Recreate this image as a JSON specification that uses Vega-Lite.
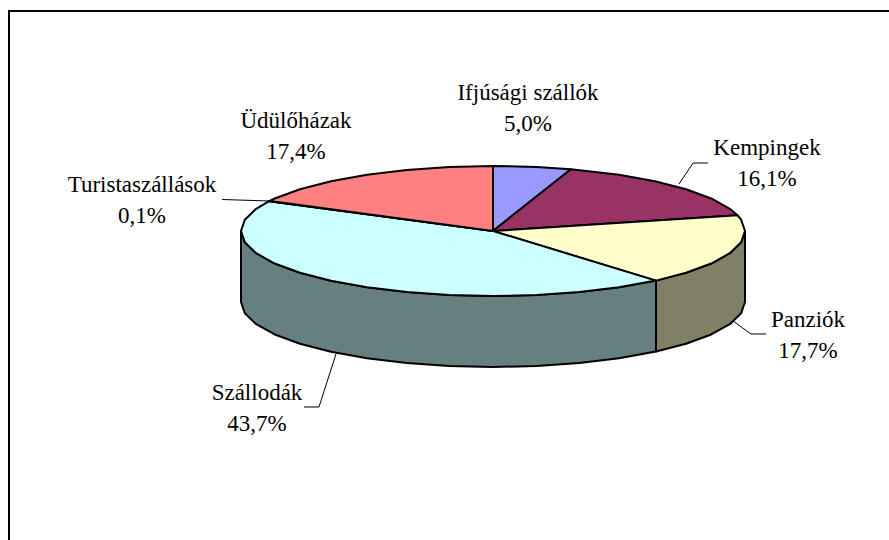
{"$schema":"https://vega.github.io/schema/vega-lite/v6.json","width":889,"height":540,"padding":0,"autosize":{"type":"none"},"background":"white","view":{"stroke":null},
"datasets":{
"frame":[{"x":-192.06,"y":-130,"n":0},{"x":-192.06,"y":87.3,"n":1},{"x":170,"y":87.3,"n":2}],
"sides":[
{"s":"Panziók","n":0,"x":100,"y":0},{"s":"Panziók","n":1,"x":98.48,"y":-4.48},{"s":"Panziók","n":2,"x":93.97,"y":-8.82},{"s":"Panziók","n":3,"x":86.6,"y":-12.9},{"s":"Panziók","n":4,"x":76.6,"y":-16.58},{"s":"Panziók","n":5,"x":64.68,"y":-19.68},{"s":"Panziók","n":6,"x":64.68,"y":-47.85},{"s":"Panziók","n":7,"x":76.6,"y":-44.75},{"s":"Panziók","n":8,"x":86.6,"y":-41.07},{"s":"Panziók","n":9,"x":93.97,"y":-36.99},{"s":"Panziók","n":10,"x":98.48,"y":-32.65},{"s":"Panziók","n":11,"x":100,"y":-28.17},{"s":"Panziók","n":12,"x":100,"y":0},
{"s":"Szállodák","n":0,"x":64.68,"y":-19.68},{"s":"Szállodák","n":1,"x":50,"y":-22.34},{"s":"Szállodák","n":2,"x":34.2,"y":-24.24},{"s":"Szállodák","n":3,"x":17.36,"y":-25.41},{"s":"Szállodák","n":4,"x":0,"y":-25.8},{"s":"Szállodák","n":5,"x":-17.36,"y":-25.41},{"s":"Szállodák","n":6,"x":-34.2,"y":-24.24},{"s":"Szállodák","n":7,"x":-50,"y":-22.34},{"s":"Szállodák","n":8,"x":-64.28,"y":-19.76},{"s":"Szállodák","n":9,"x":-76.6,"y":-16.58},{"s":"Szállodák","n":10,"x":-86.6,"y":-12.9},{"s":"Szállodák","n":11,"x":-93.97,"y":-8.82},{"s":"Szállodák","n":12,"x":-98.48,"y":-4.48},{"s":"Szállodák","n":13,"x":-100,"y":0},{"s":"Szállodák","n":14,"x":-100,"y":-28.17},{"s":"Szállodák","n":15,"x":-98.48,"y":-32.65},{"s":"Szállodák","n":16,"x":-93.97,"y":-36.99},{"s":"Szállodák","n":17,"x":-86.6,"y":-41.07},{"s":"Szállodák","n":18,"x":-76.6,"y":-44.75},{"s":"Szállodák","n":19,"x":-64.28,"y":-47.93},{"s":"Szállodák","n":20,"x":-50,"y":-50.51},{"s":"Szállodák","n":21,"x":-34.2,"y":-52.41},{"s":"Szállodák","n":22,"x":-17.36,"y":-53.58},{"s":"Szállodák","n":23,"x":0,"y":-53.97},{"s":"Szállodák","n":24,"x":17.36,"y":-53.58},{"s":"Szállodák","n":25,"x":34.2,"y":-52.41},{"s":"Szállodák","n":26,"x":50,"y":-50.51},{"s":"Szállodák","n":27,"x":64.68,"y":-47.85},{"s":"Szállodák","n":28,"x":64.68,"y":-19.68}
],
"tops":[
{"s":"Ifjúsági szállók","n":0,"x":0,"y":0},{"s":"Ifjúsági szállók","n":1,"x":0,"y":25.8},{"s":"Ifjúsági szállók","n":2,"x":17.36,"y":25.41},{"s":"Ifjúsági szállók","n":3,"x":30.9,"y":24.54},{"s":"Ifjúsági szállók","n":4,"x":0,"y":0},
{"s":"Kempingek","n":0,"x":0,"y":0},{"s":"Kempingek","n":1,"x":30.9,"y":24.54},{"s":"Kempingek","n":2,"x":50,"y":22.34},{"s":"Kempingek","n":3,"x":64.28,"y":19.76},{"s":"Kempingek","n":4,"x":76.6,"y":16.58},{"s":"Kempingek","n":5,"x":86.6,"y":12.9},{"s":"Kempingek","n":6,"x":93.97,"y":8.82},{"s":"Kempingek","n":7,"x":97.03,"y":6.24},{"s":"Kempingek","n":8,"x":0,"y":0},
{"s":"Panziók","n":0,"x":0,"y":0},{"s":"Panziók","n":1,"x":97.03,"y":6.24},{"s":"Panziók","n":2,"x":98.48,"y":4.48},{"s":"Panziók","n":3,"x":100,"y":0},{"s":"Panziók","n":4,"x":98.48,"y":-4.48},{"s":"Panziók","n":5,"x":93.97,"y":-8.82},{"s":"Panziók","n":6,"x":86.6,"y":-12.9},{"s":"Panziók","n":7,"x":76.6,"y":-16.58},{"s":"Panziók","n":8,"x":64.68,"y":-19.68},{"s":"Panziók","n":9,"x":0,"y":0},
{"s":"Szállodák","n":0,"x":0,"y":0},{"s":"Szállodák","n":1,"x":64.68,"y":-19.68},{"s":"Szállodák","n":2,"x":50,"y":-22.34},{"s":"Szállodák","n":3,"x":34.2,"y":-24.24},{"s":"Szállodák","n":4,"x":17.36,"y":-25.41},{"s":"Szállodák","n":5,"x":0,"y":-25.8},{"s":"Szállodák","n":6,"x":-17.36,"y":-25.41},{"s":"Szállodák","n":7,"x":-34.2,"y":-24.24},{"s":"Szállodák","n":8,"x":-50,"y":-22.34},{"s":"Szállodák","n":9,"x":-64.28,"y":-19.76},{"s":"Szállodák","n":10,"x":-76.6,"y":-16.58},{"s":"Szállodák","n":11,"x":-86.6,"y":-12.9},{"s":"Szállodák","n":12,"x":-93.97,"y":-8.82},{"s":"Szállodák","n":13,"x":-98.48,"y":-4.48},{"s":"Szállodák","n":14,"x":-100,"y":0},{"s":"Szállodák","n":15,"x":-98.48,"y":4.48},{"s":"Szállodák","n":16,"x":-93.97,"y":8.82},{"s":"Szállodák","n":17,"x":-88.86,"y":11.83},{"s":"Szállodák","n":18,"x":0,"y":0},
{"s":"Turistaszállások","n":0,"x":0,"y":0},{"s":"Turistaszállások","n":1,"x":-88.86,"y":11.83},{"s":"Turistaszállások","n":2,"x":-88.62,"y":11.95},{"s":"Turistaszállások","n":3,"x":0,"y":0},
{"s":"Üdülőházak","n":0,"x":0,"y":0},{"s":"Üdülőházak","n":1,"x":-88.62,"y":11.95},{"s":"Üdülőházak","n":2,"x":-86.6,"y":12.9},{"s":"Üdülőházak","n":3,"x":-76.6,"y":16.58},{"s":"Üdülőházak","n":4,"x":-64.28,"y":19.76},{"s":"Üdülőházak","n":5,"x":-50,"y":22.34},{"s":"Üdülőházak","n":6,"x":-34.2,"y":24.24},{"s":"Üdülőházak","n":7,"x":-17.36,"y":25.41},{"s":"Üdülőházak","n":8,"x":0,"y":25.8},{"s":"Üdülőházak","n":9,"x":0,"y":0}
],
"leaders":[
{"s":"Turistaszállások","n":0,"x":-107.54,"y":12.5},{"s":"Turistaszállások","n":1,"x":-88.49,"y":11.9},
{"s":"Kempingek","n":0,"x":85.32,"y":26.98},{"s":"Kempingek","n":1,"x":79.37,"y":26.98},{"s":"Kempingek","n":2,"x":73.81,"y":18.65},
{"s":"Panziók","n":0,"x":108.33,"y":-40.87},{"s":"Panziók","n":1,"x":102.38,"y":-40.87},{"s":"Panziók","n":2,"x":95.24,"y":-35.71},
{"s":"Szállodák","n":0,"x":-75,"y":-69.84},{"s":"Szállodák","n":1,"x":-69.05,"y":-69.84},{"s":"Szállodák","n":2,"x":-62.3,"y":-48.81}
],
"labels":[
{"s":"Ifjúsági szállók","share":5.0,"label":"Ifjúsági szállók\n5,0%","x":13.89,"y":48.81},
{"s":"Kempingek","share":16.1,"label":"Kempingek\n16,1%","x":108.73,"y":26.98},
{"s":"Panziók","share":17.7,"label":"Panziók\n17,7%","x":125,"y":-41.47},
{"s":"Szállodák","share":43.7,"label":"Szállodák\n43,7%","x":-93.65,"y":-70.24},
{"s":"Turistaszállások","share":0.1,"label":"Turistaszállások\n0,1%","x":-139.29,"y":12.3},
{"s":"Üdülőházak","share":17.4,"label":"Üdülőházak\n17,4%","x":-78.17,"y":37.5}
]
},
"encoding":{
"x":{"field":"x","type":"quantitative","axis":null,"scale":{"domain":[-195.63,157.14],"nice":false,"zero":false}},
"y":{"field":"y","type":"quantitative","axis":null,"scale":{"domain":[-122.62,91.67],"nice":false,"zero":false}}
},
"resolve":{"scale":{"fill":"independent"}},
"layer":[
{"data":{"name":"frame"},"mark":{"type":"line","stroke":"#000000","strokeWidth":2,"clip":true},"encoding":{"order":{"field":"n"}}},
{"data":{"name":"sides"},"mark":{"type":"line","stroke":"#000000","strokeWidth":2,"strokeJoin":"round"},"encoding":{"order":{"field":"n"},"fill":{"field":"s","legend":null,"scale":{"domain":["Panziók","Szállodák"],"range":["#808066","#668080"]}}}},
{"data":{"name":"tops"},"mark":{"type":"line","stroke":"#000000","strokeWidth":2,"strokeJoin":"round"},"encoding":{"order":{"field":"n"},"fill":{"field":"s","legend":null,"scale":{"domain":["Ifjúsági szállók","Kempingek","Panziók","Szállodák","Turistaszállások","Üdülőházak"],"range":["#9999FF","#993366","#FFFFCC","#CCFFFF","#660066","#FF8080"]}}}},
{"data":{"name":"leaders"},"mark":{"type":"line","stroke":"#000000","strokeWidth":1},"encoding":{"order":{"field":"n"},"detail":{"field":"s"}}},
{"data":{"name":"labels"},"mark":{"type":"text","font":"Liberation Serif","fontSize":23,"lineHeight":31,"lineBreak":"\n","align":"center","baseline":"middle","dy":-15.5,"color":"#000000"},"encoding":{"text":{"field":"label"}}}
]}
